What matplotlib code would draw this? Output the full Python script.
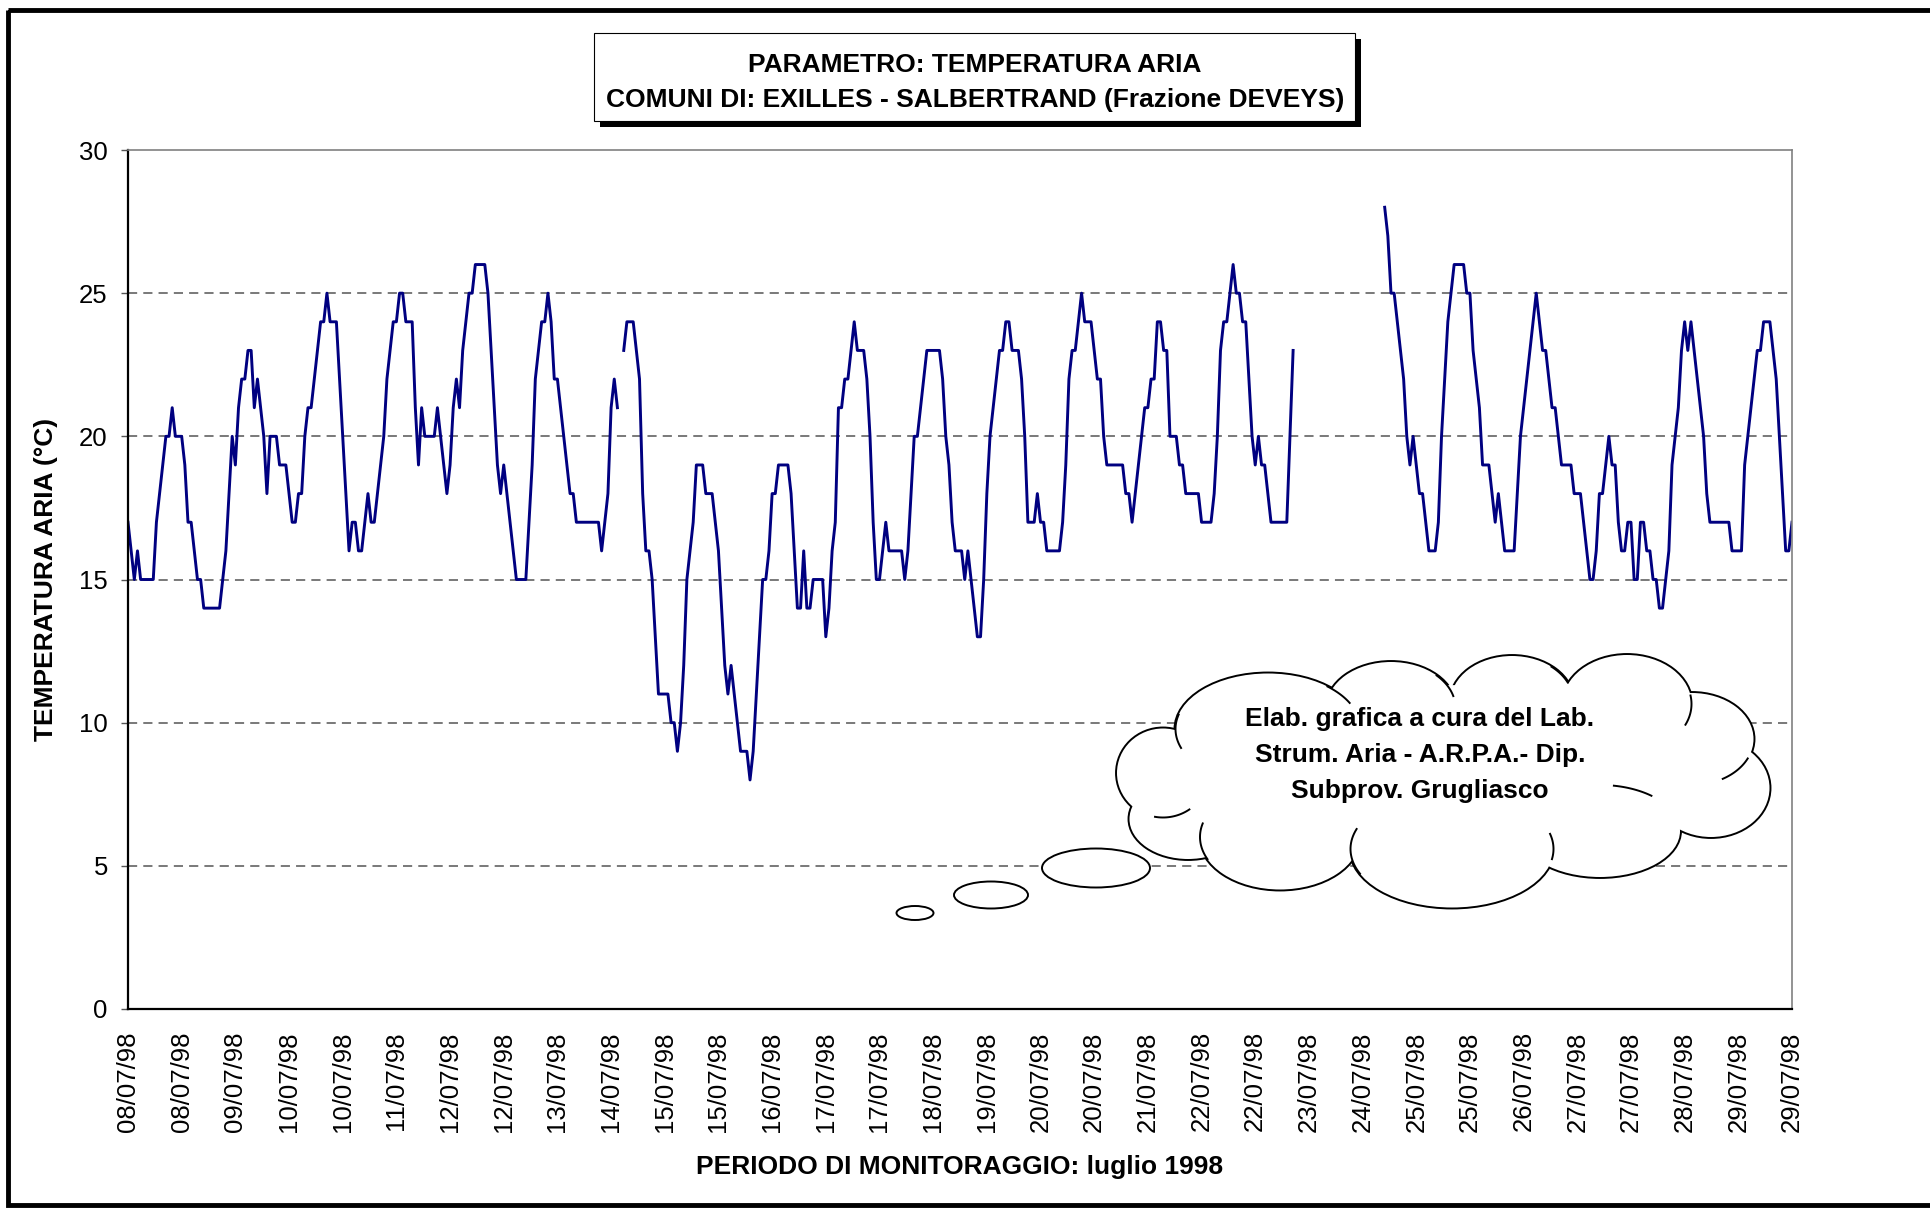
import numpy as np
import matplotlib.pyplot as plt
from matplotlib.patches import Ellipse, Rectangle

plt.rcParams['font.family'] = ['Liberation Sans', 'DejaVu Sans']

# hourly air temperature (°C), 08/07/98 00:00 -> 29/07/98 23:00, None = no data
temp = [
    17, 16, 15, 16, 15, 15, 15, 15, 15, 17, 18, 19, 20, 20, 21, 20, 20, 20, 19, 17, 17, 16, 15, 15,  # 08/07
    14, 14, 14, 14, 14, 14, 15, 16, 18, 20, 19, 21, 22, 22, 23, 23, 21, 22, 21, 20, 18, 20, 20, 20,  # 09/07
    19, 19, 19, 18, 17, 17, 18, 18, 20, 21, 21, 22, 23, 24, 24, 25, 24, 24, 24, 22, 20, 18, 16, 17,  # 10/07
    17, 16, 16, 17, 18, 17, 17, 18, 19, 20, 22, 23, 24, 24, 25, 25, 24, 24, 24, 21, 19, 21, 20, 20,  # 11/07
    20, 20, 21, 20, 19, 18, 19, 21, 22, 21, 23, 24, 25, 25, 26, 26, 26, 26, 25, 23, 21, 19, 18, 19,  # 12/07
    18, 17, 16, 15, 15, 15, 15, 17, 19, 22, 23, 24, 24, 25, 24, 22, 22, 21, 20, 19, 18, 18, 17, 17,  # 13/07
    17, 17, 17, 17, 17, 17, 16, 17, 18, 21, 22, 21, None, 23, 24, 24, 24, 23, 22, 18, 16, 16, 15, 13,  # 14/07
    11, 11, 11, 11, 10, 10, 9, 10, 12, 15, 16, 17, 19, 19, 19, 18, 18, 18, 17, 16, 14, 12, 11, 12,  # 15/07
    11, 10, 9, 9, 9, 8, 9, 11, 13, 15, 15, 16, 18, 18, 19, 19, 19, 19, 18, 16, 14, 14, 16, 14,  # 16/07
    14, 15, 15, 15, 15, 13, 14, 16, 17, 21, 21, 22, 22, 23, 24, 23, 23, 23, 22, 20, 17, 15, 15, 16,  # 17/07
    17, 16, 16, 16, 16, 16, 15, 16, 18, 20, 20, 21, 22, 23, 23, 23, 23, 23, 22, 20, 19, 17, 16, 16,  # 18/07
    16, 15, 16, 15, 14, 13, 13, 15, 18, 20, 21, 22, 23, 23, 24, 24, 23, 23, 23, 22, 20, 17, 17, 17,  # 19/07
    18, 17, 17, 16, 16, 16, 16, 16, 17, 19, 22, 23, 23, 24, 25, 24, 24, 24, 23, 22, 22, 20, 19, 19,  # 20/07
    19, 19, 19, 19, 18, 18, 17, 18, 19, 20, 21, 21, 22, 22, 24, 24, 23, 23, 20, 20, 20, 19, 19, 18,  # 21/07
    18, 18, 18, 18, 17, 17, 17, 17, 18, 20, 23, 24, 24, 25, 26, 25, 25, 24, 24, 22, 20, 19, 20, 19,  # 22/07
    19, 18, 17, 17, 17, 17, 17, 17, 20, 23] + [None] * 14 + [  # 23/07
    ] + [None] * 14 + [
    28, 27, 25, 25, 24, 23, 22, 20, 19, 20,  # 24/07
    19, 18, 18, 17, 16, 16, 16, 17, 20, 22, 24, 25, 26, 26, 26, 26, 25, 25, 23, 22, 21, 19, 19, 19,  # 25/07
    18, 17, 18, 17, 16, 16, 16, 16, 18, 20, 21, 22, 23, 24, 25, 24, 23, 23, 22, 21, 21, 20, 19, 19,  # 26/07
    19, 19, 18, 18, 18, 17, 16, 15, 15, 16, 18, 18, 19, 20, 19, 19, 17, 16, 16, 17, 17, 15, 15, 17,  # 27/07
    17, 16, 16, 15, 15, 14, 14, 15, 16, 19, 20, 21, 23, 24, 23, 24, 23, 22, 21, 20, 18, 17, 17, 17,  # 28/07
    17, 17, 17, 17, 16, 16, 16, 16, 19, 20, 21, 22, 23, 23, 24, 24, 24, 23, 22, 20, 18, 16, 16, 17,  # 29/07
]

# one label every 17 hourly rows, as in the original sheet
tick_step = 17
tick_labels = ['08/07/98', '08/07/98', '09/07/98', '10/07/98', '10/07/98', '11/07/98',
               '12/07/98', '12/07/98', '13/07/98', '14/07/98', '15/07/98', '15/07/98',
               '16/07/98', '17/07/98', '17/07/98', '18/07/98', '19/07/98', '20/07/98',
               '20/07/98', '21/07/98', '22/07/98', '22/07/98', '23/07/98', '24/07/98',
               '25/07/98', '25/07/98', '26/07/98', '27/07/98', '27/07/98', '28/07/98',
               '29/07/98', '29/07/98']
grid_levels = [5, 10, 15, 20, 25]

title_lines = ['PARAMETRO: TEMPERATURA ARIA',
               'COMUNI DI: EXILLES - SALBERTRAND (Frazione DEVEYS)']
note_lines = ['Elab. grafica a cura del Lab.',
              'Strum. Aria - A.R.P.A.- Dip.',
              'Subprov. Grugliasco']

y = np.array([np.nan if v is None else v for v in temp], dtype=float)
hours = np.arange(len(y))

W, H = 1930, 1208
fig = plt.figure(figsize=(W / 100, H / 100), dpi=100)

ax = fig.add_axes([128 / W, 1 - 1009 / H, 1664 / W, 859 / H])
ax.plot(hours, y, color='#000080', lw=2.1)
for g in grid_levels:
    ax.axhline(g, color='#555555', lw=1.1, ls=(0, (6, 4)), zorder=1)
ax.set_xlim(0, len(y) - 1)
ax.set_ylim(0, 30)
ax.set_yticks(range(0, 31, 5))
ax.set_xticks(np.arange(0, len(y), tick_step))
ax.set_xticklabels(tick_labels, rotation=90)
ax.tick_params(axis='y', length=5, width=1, color='#555555', pad=9.5, labelsize=18.5)
ax.tick_params(axis='x', length=0, pad=16, labelsize=18.5)
for s in ['left', 'bottom']:
    ax.spines[s].set_color('black')
    ax.spines[s].set_linewidth(1.6)
for s in ['top', 'right']:
    ax.spines[s].set_color('#808080')
    ax.spines[s].set_linewidth(1.2)

# overlay in pixel units for the decorations
ov = fig.add_axes([0, 0, 1, 1], zorder=5)
ov.set_xlim(0, W)
ov.set_ylim(H, 0)
ov.axis('off')
ov.patch.set_alpha(0)

# outer frame
ov.add_patch(Rectangle((8, 10), 2000, 1195, fill=False, ec='black', lw=3.5))

# title box with shadow
ov.add_patch(Rectangle((600, 39), 761, 88, fc='black', ec='none', zorder=1))
ov.add_patch(Rectangle((594, 33), 761, 88, fc='white', ec='black', lw=0.8, zorder=2))
ov.text(975, 65, title_lines[0], ha='center', va='center', fontsize=19, fontweight='bold', zorder=3)
ov.text(975, 100, title_lines[1], ha='center', va='center', fontsize=19, fontweight='bold', zorder=3)

# axis titles
ov.text(46, 579, 'TEMPERATURA ARIA (°C)', rotation=90, ha='center', va='center',
        fontsize=19, fontweight='bold')
ov.text(960, 1167, 'PERIODO DI MONITORAGGIO: luglio 1998', ha='center', va='center',
        fontsize=19, fontweight='bold')

# cloud callout: union of lobes, then the small inner curls
lobes = [(1163, 773, 92, 89), (1268, 729, 185, 111), (1391, 708, 129, 92),
         (1512, 702, 123, 92), (1627, 704, 129, 98), (1692, 739, 123, 92),
         (1711, 788, 117, 98), (1600, 831, 160, 92), (1452, 849, 203, 117),
         (1280, 837, 160, 105), (1188, 819, 117, 80)]
for cx, cy, w, h in lobes:
    ov.add_patch(Ellipse((cx, cy), w, h, fc='white', ec='black', lw=2.8, zorder=6))
for cx, cy, w, h in lobes:
    ov.add_patch(Ellipse((cx, cy), w, h, fc='white', ec='none', zorder=7))
ov.add_patch(Ellipse((1440, 770), 470, 170, fc='white', ec='none', zorder=7))

# (lobe, start angle, end angle) of each curl
curls = [(0, -100, -55), (1, 165, 200), (1, 28, 50), (2, 15, 45), (3, 25, 50),
         (4, -25, 10), (5, -60, -25), (7, 50, 80), (8, -10, 15), (8, 160, 205),
         (9, 165, 205)]
for i, t1, t2 in curls:
    cx, cy, w, h = lobes[i]
    t = np.radians(np.linspace(t1, t2, 20))
    ov.plot(cx + w / 2 * np.cos(t), cy - h / 2 * np.sin(t), color='black', lw=1.4, zorder=8)

for cx, cy, w, h in [(1096, 868, 108, 39), (991, 895, 74, 27), (915, 913, 37, 14)]:
    ov.add_patch(Ellipse((cx, cy), w, h, fc='white', ec='black', lw=1.4, zorder=6))
for i, line in enumerate(note_lines):
    ov.text(1420, 719 + 36 * i, line, ha='center', va='center', fontsize=19,
            fontweight='bold', zorder=9)

fig.savefig('out.png', dpi=100)
